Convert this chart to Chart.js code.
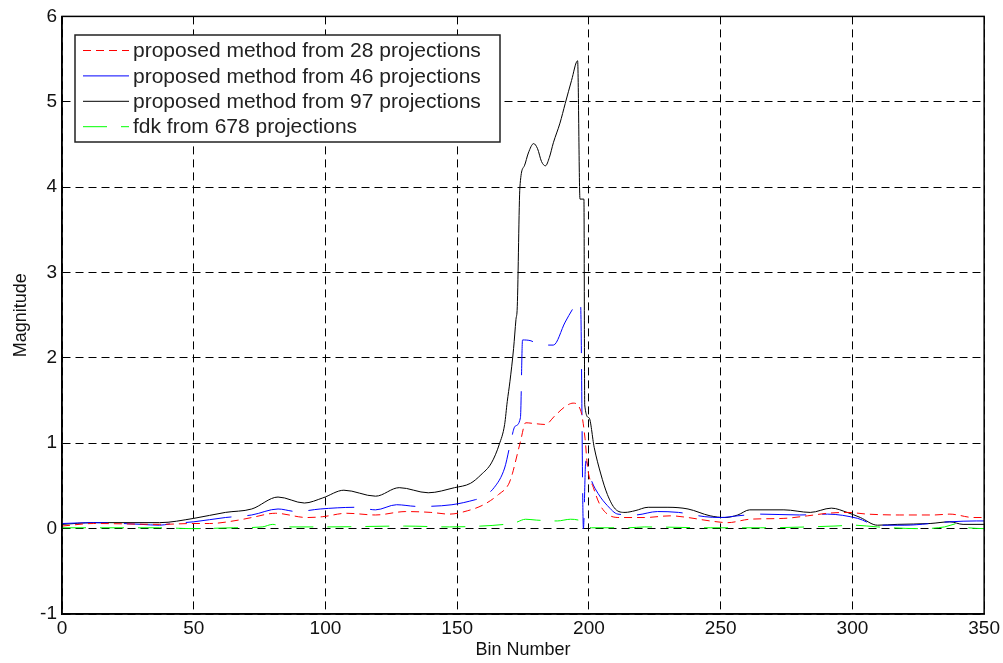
<!DOCTYPE html>
<html><head><meta charset="utf-8">
<script src="https://cdn.jsdelivr.net/npm/chart.js@4.4.0/dist/chart.umd.min.js"></script>
<style>html,body{margin:0;padding:0;background:#fff;}#wrap{position:relative;width:1003px;height:663px;}</style>
</head><body><div id="wrap"><canvas id="c" width="1003" height="663"></canvas></div>
<script>
const xTicks = [0,50,100,150,200,250,300,350];
const yTicks = [-1,0,1,2,3,4,5,6];
const seriesLabels = ['proposed method from 28 projections','proposed method from 46 projections','proposed method from 97 projections','fdk from 678 projections'];

const binsRed = [0,12,37,50,56,67,72,81,93,99,108,119,130.5,140,147,154,160,165.7,169.5,171,172,174,176,179.5,183.5,187,191,194,197,198.5,199.5,201.7,204,207,212,221,231,237.6,246,252.7,261,274,283,290.6,298,305.7,318,331,337,346,350];
const valsRed = [0.03,0.06,0.05,0.06,0.06,0.10,0.13,0.18,0.13,0.14,0.18,0.16,0.20,0.19,0.17,0.21,0.28,0.40,0.52,0.65,0.77,1.02,1.24,1.23,1.22,1.32,1.43,1.47,1.37,1.06,0.71,0.48,0.29,0.17,0.13,0.13,0.15,0.13,0.09,0.07,0.11,0.12,0.15,0.18,0.19,0.17,0.16,0.16,0.17,0.13,0.13];

const binsBlue = [0,12,30,37,42,50,62,72,82,89,98,111.5,119,127,135,148,157,159,164,168,170,172,174,174.8,178,181.5,186.5,191,195,196.8,197.9,198.8,201,203.5,207,211,217.5,226,234,244,250,256.5,265,280,290.6,302,309.5,319.6,337,347,350];
const valsBlue = [0.06,0.07,0.05,0.04,0.06,0.08,0.13,0.16,0.23,0.20,0.23,0.25,0.22,0.28,0.26,0.28,0.34,0.36,0.48,0.71,0.97,1.20,1.30,2.21,2.20,2.15,2.15,2.42,2.62,2.65,0.00,0.79,0.56,0.41,0.27,0.17,0.16,0.20,0.19,0.14,0.13,0.15,0.17,0.16,0.17,0.12,0.04,0.04,0.08,0.09,0.09];

const binsBlack = [0,12,37,50,62,72,82,92,99,107,119,128,139,149,155,159,163,166,168,169,170,171.4,172.3,172.8,173.8,175.5,177,179,180.5,182,183.5,185,186.5,189,191,193.4,195.7,196.6,198.1,198.4,200,202,204.5,207,210,213.7,217.5,222.5,230,237.6,246,251.6,256.5,261,274,284,292,298,303,309.5,317,329.5,337,342,350];
const valsBlack = [0.05,0.07,0.07,0.12,0.19,0.23,0.37,0.30,0.36,0.45,0.38,0.48,0.42,0.48,0.53,0.63,0.77,0.99,1.22,1.49,1.72,2.11,2.45,2.60,4.00,4.25,4.40,4.51,4.45,4.30,4.25,4.35,4.52,4.75,4.98,5.25,5.48,3.86,3.86,1.45,1.30,0.95,0.64,0.40,0.23,0.19,0.21,0.25,0.25,0.23,0.15,0.13,0.16,0.22,0.22,0.19,0.24,0.19,0.13,0.04,0.05,0.06,0.08,0.05,0.05];

const binsGreen = [0,37,50,65,76,80,84,100,130,147,159,168,172,176,180,188,193,197,198.5,201,215,221,246,265,293,300.6,309.5,325,335,340,342,350];
const valsGreen = [0.01,0.01,0.00,0.01,0.02,0.05,0.02,0.02,0.03,0.02,0.03,0.05,0.07,0.11,0.10,0.09,0.11,0.09,0.06,0.01,0.01,0.02,0.01,0.01,0.03,0.04,0.02,0.00,0.02,0.06,0.02,0.00];

function pts(b, v){ return b.map((x,i)=>({x:x, y:v[i]})); }

const lineColors = ['#ff0000','#0000ff','#000000','#00ff00'];
const lineDashes = [[8,5],[46,16],[],[24,14]];
const legendDashes = [[8,5],[],[],[24,14]];

const frameAndLegend = {
  id:'frameAndLegend',
  afterDraw(chart){
    const ctx = chart.ctx, a = chart.chartArea;
    ctx.save();
    ctx.strokeStyle='#000'; ctx.lineWidth=1.5; ctx.setLineDash([]);
    ctx.strokeRect(a.left, a.top, a.right-a.left, a.bottom-a.top);
    const bx=75, by=35, bw=425, bh=107;
    ctx.fillStyle='#fff'; ctx.fillRect(bx,by,bw,bh);
    ctx.lineWidth=1.5; ctx.strokeStyle='#222'; ctx.strokeRect(bx,by,bw,bh);
    ctx.font='21px "Liberation Sans", Arial, sans-serif';
    ctx.textBaseline='middle'; ctx.textAlign='left';
    for(let i=0;i<4;i++){
      const y = 50.5 + i*25.4;
      ctx.beginPath(); ctx.lineWidth=1; ctx.strokeStyle=lineColors[i];
      ctx.setLineDash(legendDashes[i]);
      ctx.moveTo(83,y); ctx.lineTo(129,y); ctx.stroke();
      ctx.setLineDash([]);
      ctx.fillStyle='#222';
      ctx.fillText(seriesLabels[i], 133, y+1);
    }
    ctx.restore();
  }
};

const datasets = [
  {label:seriesLabels[0], data:pts(binsRed,valsRed)},
  {label:seriesLabels[1], data:pts(binsBlue,valsBlue)},
  {label:seriesLabels[2], data:pts(binsBlack,valsBlack)},
  {label:seriesLabels[3], data:pts(binsGreen,valsGreen)}
].map((d,i)=>Object.assign(d,{borderColor:lineColors[i], borderWidth:1, borderDash:lineDashes[i], pointRadius:0, cubicInterpolationMode:'monotone', fill:false}));

new Chart(document.getElementById('c'), {
  type:'line',
  data:{datasets: datasets},
  options:{
    responsive:false, animation:false, devicePixelRatio:1,
    layout:{padding:{top:13,right:16,left:0,bottom:0}},
    plugins:{legend:{display:false}, tooltip:{enabled:false}},
    scales:{
      x:{type:'linear', min:0, max:350,
        afterBuildTicks(s){ s.ticks = xTicks.map(v=>({value:v})); },
        afterFit(s){ s.height = 49; },
        ticks:{color:'#111', font:{family:'"Liberation Sans", Arial', size:19}, padding:3, maxRotation:0, autoSkip:false},
        grid:{color:'#000', lineWidth:1, drawTicks:false},
        border:{display:true, color:'#000', width:1.5, dash:[8,5]},
        title:{display:true, text:'Bin Number', color:'#111', font:{family:'"Liberation Sans", Arial', size:18}, padding:{top:0,bottom:2}}
      },
      y:{type:'linear', min:-1, max:6,
        afterBuildTicks(s){ s.ticks = yTicks.map(v=>({value:v})); },
        afterFit(s){ s.width = 62; },
        ticks:{color:'#111', font:{family:'"Liberation Sans", Arial', size:19}, padding:5, autoSkip:false},
        grid:{color:'#000', lineWidth:1, drawTicks:false},
        border:{display:true, color:'#000', width:1.5, dash:[8,5]},
        title:{display:true, text:'Magnitude', color:'#111', font:{family:'"Liberation Sans", Arial', size:18}, padding:{top:10,bottom:0}}
      }
    }
  },
  plugins:[frameAndLegend]
});
</script></body></html>
